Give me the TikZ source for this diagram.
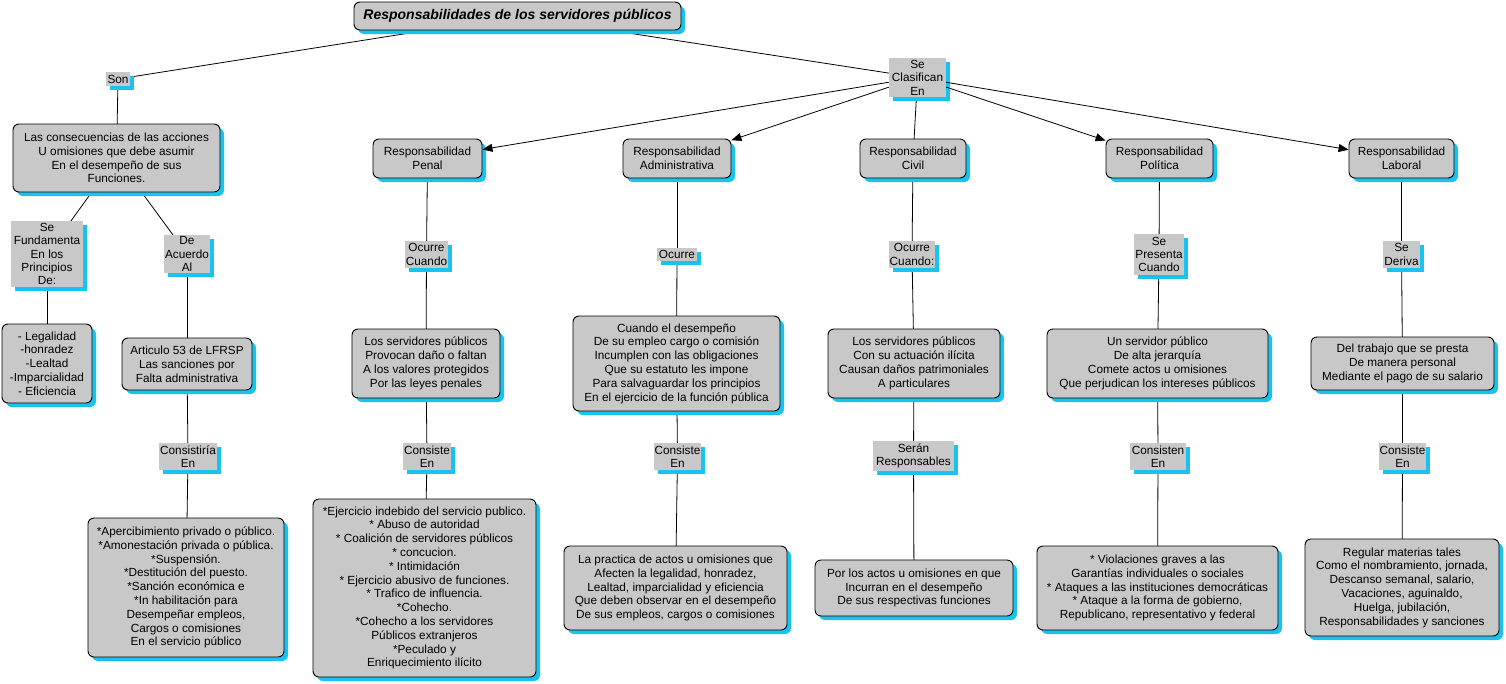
\documentclass[tikz,border=0pt]{standalone}
\usepackage{fontspec}
\setmainfont{Liberation Sans}
\usetikzlibrary{shadows,arrows.meta,backgrounds}
\definecolor{boxgray}{RGB}{200,200,200}
\definecolor{shcyan}{RGB}{25,195,240}
\tikzset{
  concept/.style={draw=black, line width=0.9pt, fill=boxgray, rounded corners=6pt, align=center,
    inner sep=1pt, font=\fontsize{11.8}{13.8}\selectfont,
    drop shadow={shadow xshift=4pt, shadow yshift=-4pt, fill=shcyan, opacity=1}},
  linkp/.style={fill=boxgray, align=center, inner sep=1pt, font=\fontsize{11.8}{13.4}\selectfont,
    drop shadow={shadow xshift=4pt, shadow yshift=-4pt, fill=shcyan, opacity=1}},
  conn/.style={draw=black, line width=0.8pt},
  arr/.style={conn, -{Triangle[length=10pt,width=8pt]}}
}
\begin{document}
\begin{tikzpicture}[x=1pt,y=-1pt]
\useasboundingbox (0,0) rectangle (1506,683);
% title
\node[concept, font=\fontsize{14}{16}\selectfont\bfseries\itshape, minimum width=327pt, minimum height=28pt] (title) at (517.5,16) {Responsabilidades de los servidores públicos};
% left branch
\node[linkp, minimum width=24pt, minimum height=14pt] (son) at (118,79) {Son};
\node[concept, minimum width=207pt, minimum height=68pt] (cons) at (116.5,158) {Las consecuencias de las acciones\\U omisiones que debe asumir\\En el desempeño de sus\\Funciones.};
\node[linkp, minimum width=72pt, minimum height=66pt] (fund) at (47,254) {Se\\Fundamenta\\En los\\Principios\\De:};
\node[linkp, minimum width=46pt, minimum height=38pt] (acuerdo) at (187,254) {De\\Acuerdo\\Al};
\node[concept, minimum width=90pt, minimum height=79pt] (princ) at (47,363.5) {- Legalidad\\-honradez\\-Lealtad\\-Imparcialidad\\- Eficiencia};
\node[concept, minimum width=130pt, minimum height=52pt] (art) at (187,364) {Articulo 53 de LFRSP\\Las sanciones por\\Falta administrativa};
\node[linkp, minimum width=58pt, minimum height=27pt] (consistiria) at (188,456.5) {Consistiría\\En};
\node[concept, minimum width=196pt, minimum height=139pt] (aperc) at (186,587.5) {*Apercibimiento privado o público.\\*Amonestación privada o pública.\\*Suspensión.\\*Destitución del puesto.\\*Sanción económica e\\*In habilitación para\\Desempeñar empleos,\\Cargos o comisiones\\En el servicio público};
% classification
\node[linkp, minimum width=57pt, minimum height=39pt] (clas) at (917.5,77.5) {Se\\Clasifican\\En};
% Penal
\node[concept, minimum width=109pt, minimum height=39pt] (penal) at (427.5,158.5) {Responsabilidad\\Penal};
\node[linkp, minimum width=43pt, minimum height=27pt] (ocpenal) at (426.5,254.5) {Ocurre\\Cuando};
\node[concept, minimum width=148pt, minimum height=69pt] (penal2) at (426,363.5) {Los servidores públicos\\Provocan daño o faltan\\A los valores protegidos\\Por las leyes penales};
\node[linkp, minimum width=44pt, minimum height=27pt] (cspenal) at (427,456.5) {Consiste\\En};
\node[concept, minimum width=223pt, minimum height=178pt] (penal3) at (424.5,588) {*Ejercicio indebido del servicio publico.\\* Abuso de autoridad\\* Coalición de servidores públicos\\* concucion.\\* Intimidación\\* Ejercicio abusivo de funciones.\\* Trafico de influencia.\\*Cohecho.\\*Cohecho a los servidores\\Públicos extranjeros\\*Peculado y\\Enriquecimiento ilícito};
% Administrativa
\node[concept, minimum width=108pt, minimum height=39pt] (adm) at (677,158.5) {Responsabilidad\\Administrativa};
\node[linkp, minimum width=40pt, minimum height=13pt] (ocadm) at (677,254.5) {Ocurre};
\node[concept, minimum width=207pt, minimum height=95pt] (adm2) at (676.5,363.5) {Cuando el desempeño\\De su empleo cargo o comisión\\Incumplen con las obligaciones\\Que su estatuto les impone\\Para salvaguardar los principios\\En el ejercicio de la función pública};
\node[linkp, minimum width=47pt, minimum height=27pt] (csadm) at (677.5,456.5) {Consiste\\En};
\node[concept, minimum width=223pt, minimum height=84pt] (adm3) at (675.5,588) {La practica de actos u omisiones que\\Afecten la legalidad, honradez,\\Lealtad, imparcialidad y eficiencia\\Que deben observar en el desempeño\\De sus empleos, cargos o comisiones};
% Civil
\node[concept, minimum width=106pt, minimum height=39pt] (civ) at (913,158.5) {Responsabilidad\\Civil};
\node[linkp, minimum width=46pt, minimum height=27pt] (occiv) at (912,254.5) {Ocurre\\Cuando:};
\node[concept, minimum width=172pt, minimum height=69pt] (civ2) at (914,363.5) {Los servidores públicos\\Con su actuación ilícita\\Causan daños patrimoniales\\A particulares};
\node[linkp, minimum width=81pt, minimum height=30pt] (seran) at (913.5,456) {Serán\\Responsables};
\node[concept, minimum width=198pt, minimum height=56pt] (civ3) at (914,588) {Por los actos u omisiones en que\\Incurran en el desempeño\\De sus respectivas funciones};
% Politica
\node[concept, minimum width=107pt, minimum height=39pt] (pol) at (1159.5,158.5) {Responsabilidad\\Política};
\node[linkp, minimum width=50pt, minimum height=41pt] (sepres) at (1159,254.5) {Se\\Presenta\\Cuando};
\node[concept, minimum width=221pt, minimum height=69pt] (pol2) at (1157.5,363.5) {Un servidor público\\De alta jerarquía\\Comete actos u omisiones\\Que perjudican los intereses públicos};
\node[linkp, minimum width=56pt, minimum height=27pt] (cspol) at (1158,456.5) {Consisten\\En};
\node[concept, minimum width=241pt, minimum height=84pt] (pol3) at (1157.5,588) {* Violaciones graves a las\\Garantías individuales o sociales\\* Ataques a las instituciones democráticas\\* Ataque a la forma de gobierno,\\Republicano, representativo y federal};
% Laboral
\node[concept, minimum width=105pt, minimum height=39pt] (lab) at (1401.5,158.5) {Responsabilidad\\Laboral};
\node[linkp, minimum width=35pt, minimum height=27pt] (deriva) at (1401.5,254.5) {Se\\Deriva};
\node[concept, minimum width=183pt, minimum height=53pt] (lab2) at (1402.5,363.5) {Del trabajo que se presta\\De manera personal\\Mediante el pago de su salario};
\node[linkp, minimum width=47pt, minimum height=27pt] (cslab) at (1402.5,456.5) {Consiste\\En};
\node[concept, minimum width=194pt, minimum height=97pt] (lab3) at (1402,587.5) {Regular materias tales\\Como el nombramiento, jornada,\\Descanso semanal, salario,\\Vacaciones, aguinaldo,\\Huelga, jubilación,\\Responsabilidades y sanciones};
% connectors behind the nodes and their shadows
\begin{scope}[on background layer]
\draw[conn] (title.center) -- (son.center);
\draw[conn] (son.center) -- (cons.center);
\draw[conn] (cons.center) -- (fund.center);
\draw[conn] (cons.center) -- (acuerdo.center);
\draw[conn] (fund.center) -- (princ.center);
\draw[conn] (acuerdo.center) -- (art.center);
\draw[conn] (art.center) -- (consistiria.center);
\draw[conn] (consistiria.center) -- (aperc.center);
\draw[conn] (title.center) -- (clas.center);
\draw[conn] (clas.center) -- (civ.center);
\draw[conn] (penal.center) -- (ocpenal.center);
\draw[conn] (ocpenal.center) -- (penal2.center);
\draw[conn] (penal2.center) -- (cspenal.center);
\draw[conn] (cspenal.center) -- (penal3.center);
\draw[conn] (adm.center) -- (ocadm.center);
\draw[conn] (ocadm.center) -- (adm2.center);
\draw[conn] (adm2.center) -- (csadm.center);
\draw[conn] (csadm.center) -- (adm3.center);
\draw[conn] (civ.center) -- (occiv.center);
\draw[conn] (occiv.center) -- (civ2.center);
\draw[conn] (civ2.center) -- (seran.center);
\draw[conn] (seran.center) -- (civ3.center);
\draw[conn] (pol.center) -- (sepres.center);
\draw[conn] (sepres.center) -- (pol2.center);
\draw[conn] (pol2.center) -- (cspol.center);
\draw[conn] (cspol.center) -- (pol3.center);
\draw[conn] (lab.center) -- (deriva.center);
\draw[conn] (deriva.center) -- (lab2.center);
\draw[conn] (lab2.center) -- (cslab.center);
\draw[conn] (cslab.center) -- (lab3.center);
\end{scope}
% arrows
\draw[arr] (clas) -- (penal);
\draw[arr] (clas) -- (adm);
\draw[arr] (clas) -- (pol);
\draw[arr] (clas) -- (lab);
\end{tikzpicture}
\end{document}
